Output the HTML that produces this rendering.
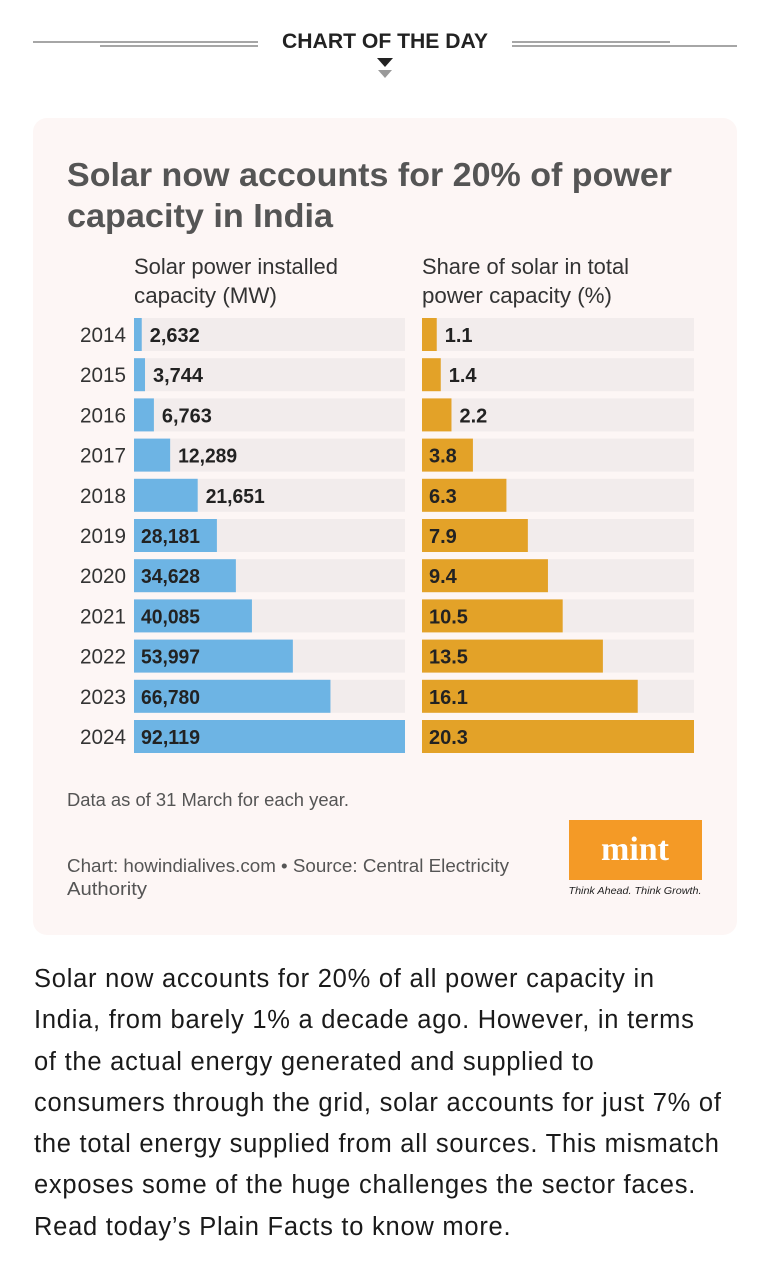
<!DOCTYPE html>
<html><head><meta charset="utf-8"><style>
body{margin:0;width:770px;height:1280px;background:#fff;font-family:"Liberation Sans",sans-serif;overflow:hidden}
svg{position:absolute;left:0;top:0}
.body-text{position:absolute;left:34px;top:959px;width:736px;font-size:25.5px;letter-spacing:0.75px;line-height:41.3px;color:#1a1a1a;white-space:nowrap}
</style></head><body>
<svg width="770" height="950" id="chart">
  <g>
    <line x1="33" y1="42" x2="258" y2="42" stroke="#888" stroke-width="1.5"/>
    <line x1="100" y1="46" x2="258" y2="46" stroke="#888" stroke-width="1.5"/>
    <line x1="512" y1="42" x2="670" y2="42" stroke="#888" stroke-width="1.5"/>
    <line x1="512" y1="46" x2="737" y2="46" stroke="#888" stroke-width="1.5"/>
    <text x="385" y="48" text-anchor="middle" font-size="21" font-weight="bold" fill="#222" textLength="206" lengthAdjust="spacingAndGlyphs">CHART OF THE DAY</text>
    <polygon points="377,58 393,58 385,67" fill="#222"/>
    <polygon points="378,70 392,70 385,78" fill="#999"/>
  </g>
  <rect x="33" y="118" width="704" height="817" rx="14" fill="#fdf6f5"/>
  <text x="67" y="186" font-size="33" font-weight="bold" fill="#555" textLength="605" lengthAdjust="spacingAndGlyphs">Solar now accounts for 20% of power</text>
  <text x="67" y="227" font-size="33" font-weight="bold" fill="#555" textLength="266" lengthAdjust="spacingAndGlyphs">capacity in India</text>
  <text x="134" y="274" font-size="22" fill="#333" textLength="204" lengthAdjust="spacingAndGlyphs">Solar power installed</text>
  <text x="134" y="303" font-size="22" fill="#333" textLength="143" lengthAdjust="spacingAndGlyphs">capacity (MW)</text>
  <text x="422" y="274" font-size="22" fill="#333" textLength="207" lengthAdjust="spacingAndGlyphs">Share of solar in total</text>
  <text x="422" y="303" font-size="22" fill="#333" textLength="190" lengthAdjust="spacingAndGlyphs">power capacity (%)</text>
  <g id="bars"></g>
  <text x="67" y="806" font-size="18" fill="#555" textLength="282" lengthAdjust="spacingAndGlyphs">Data as of 31 March for each year.</text>
  <text x="67" y="872" font-size="18" fill="#555" textLength="442" lengthAdjust="spacingAndGlyphs">Chart: howindialives.com • Source: Central Electricity</text>
  <text x="67" y="895" font-size="18" fill="#555" textLength="80" lengthAdjust="spacingAndGlyphs">Authority</text>
  <g>
    <rect x="569" y="820" width="133" height="60" fill="#f49a26"/>
    <text x="635" y="860" text-anchor="middle" font-family="Liberation Serif,serif" font-size="34" font-weight="bold" fill="#fff">mint</text>
    <text x="635" y="894" text-anchor="middle" font-size="10.5" font-style="italic" fill="#222" textLength="133" lengthAdjust="spacingAndGlyphs">Think Ahead. Think Growth.</text>
  </g>
</svg>
<div class="body-text">Solar now accounts for 20% of all power capacity in<br>India, from barely 1% a decade ago. However, in terms<br>of the actual energy generated and supplied to<br>consumers through the grid, solar accounts for just 7% of<br>the total energy supplied from all sources. This mismatch<br>exposes some of the huge challenges the sector faces.<br>Read today’s Plain Facts to know more.</div>
<script>
const years=["2014","2015","2016","2017","2018","2019","2020","2021","2022","2023","2024"];
const capacity=[2632,3744,6763,12289,21651,28181,34628,40085,53997,66780,92119];
const capacityLabels=["2,632","3,744","6,763","12,289","21,651","28,181","34,628","40,085","53,997","66,780","92,119"];
const share=[1.1,1.4,2.2,3.8,6.3,7.9,9.4,10.5,13.5,16.1,20.3];
const ns="http://www.w3.org/2000/svg";
const g=document.getElementById('bars');
const y0=318,pitch=40.2,bh=33;
const Lx=134,Lw=271,Lmax=92119,Rx=422,Rw=272,Rmax=20.3;
const xL=v=>v/Lmax*Lw, xR=v=>v/Rmax*Rw;
function mk(tag,attrs){const e=document.createElementNS(ns,tag);for(const k in attrs)e.setAttribute(k,attrs[k]);return e;}
years.forEach((yr,i)=>{
  const y=y0+i*pitch;
  const t=mk('text',{x:126,y:y+24,'text-anchor':'end','font-size':21,fill:'#333',textLength:46,lengthAdjust:'spacingAndGlyphs'});
  t.textContent=yr;
  
  
  g.appendChild(t);
  const tr1=mk('rect',{x:Lx,y:y,width:Lw,height:bh,fill:'#f2ecec'});
  
  
  g.appendChild(tr1);
  const w1=xL(capacity[i]);
  const b1=mk('rect',{x:Lx,y:y,width:w1,height:bh,fill:'#6db4e4'});
  
  
  g.appendChild(b1);
  const in1=w1>75;
  const l1=mk('text',{x:in1?Lx+7:Lx+w1+8,y:y+24,'font-size':20,'font-weight':'bold',fill:'#222',textLength:capacityLabels[i].length>5?59:50,lengthAdjust:'spacingAndGlyphs'});
  l1.textContent=capacityLabels[i];
  
  
  g.appendChild(l1);
  const tr2=mk('rect',{x:Rx,y:y,width:Rw,height:bh,fill:'#f2ecec'});
  
  
  g.appendChild(tr2);
  const w2=xR(share[i]);
  const b2=mk('rect',{x:Rx,y:y,width:w2,height:bh,fill:'#e3a228'});
  
  
  g.appendChild(b2);
  const in2=w2>45;
  const l2=mk('text',{x:in2?Rx+7:Rx+w2+8,y:y+24,'font-size':20,'font-weight':'bold',fill:'#222'});
  l2.textContent=share[i].toFixed(1);
  
  
  g.appendChild(l2);
});
</script>
</body></html>
